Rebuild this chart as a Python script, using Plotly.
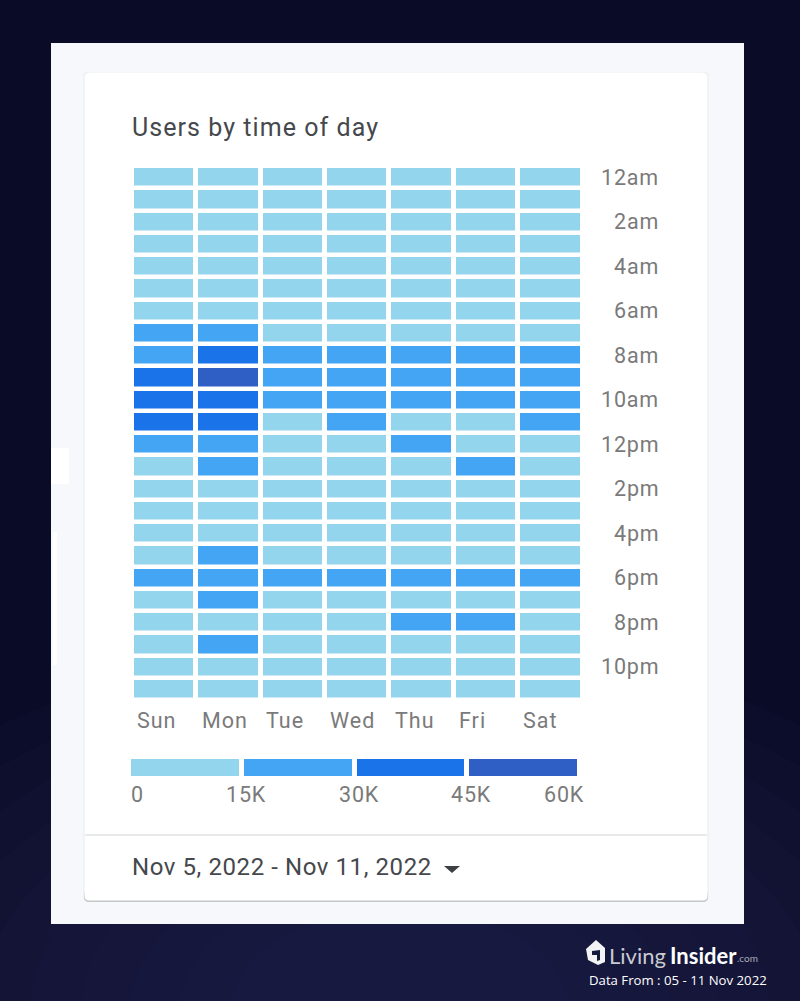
import plotly.graph_objects as go

days = ["Sun", "Mon", "Tue", "Wed", "Thu", "Fri", "Sat"]
hours = ["12am", "1am", "2am", "3am", "4am", "5am", "6am", "7am", "8am", "9am", "10am", "11am",
         "12pm", "1pm", "2pm", "3pm", "4pm", "5pm", "6pm", "7pm", "8pm", "9pm", "10pm", "11pm"]
hour_labels = ["12am", "2am", "4am", "6am", "8am", "10am", "12pm", "2pm", "4pm", "6pm", "8pm", "10pm"]

# values read by colour bucket only, so these are estimates (12am -> 11pm)
sun = [9000, 7000, 5000, 4000, 4000, 6000, 11000, 19000, 23000, 36000, 38000, 37000,
       24000, 14000, 13000, 12000, 13000, 14000, 25000, 14000, 13000, 13000, 12000, 10000]
mon = [8000, 6000, 4000, 4000, 4000, 6000, 12000, 22000, 39000, 48000, 41000, 40000,
       25000, 21000, 14000, 13000, 14000, 18000, 24000, 20000, 14000, 19000, 13000, 10000]
tue = [8000, 6000, 5000, 4000, 4000, 6000, 11000, 14000, 24000, 22000, 21000, 14000,
       14000, 13000, 13000, 12000, 13000, 14000, 25000, 14000, 13000, 13000, 12000, 10000]
wed = [8000, 6000, 5000, 4000, 4000, 6000, 11000, 14000, 23000, 22000, 21000, 19000,
       14000, 13000, 13000, 12000, 13000, 14000, 26000, 14000, 13000, 13000, 12000, 10000]
thu = [8000, 6000, 5000, 4000, 4000, 6000, 11000, 14000, 23000, 22000, 21000, 14000,
       19000, 13000, 13000, 12000, 13000, 14000, 24000, 14000, 18000, 13000, 12000, 10000]
fri = [8000, 6000, 5000, 4000, 4000, 6000, 11000, 14000, 23000, 23000, 21000, 14000,
       14000, 18000, 13000, 12000, 13000, 14000, 23000, 14000, 18000, 13000, 12000, 10000]
sat = [8000, 6000, 5000, 4000, 4000, 6000, 10000, 14000, 22000, 23000, 21000, 19000,
       14000, 13000, 13000, 12000, 13000, 14000, 22000, 14000, 13000, 13000, 12000, 10000]

legend_mid = [7500, 22500, 37500, 52500]
legend_ticks = [0, 15000, 30000, 45000, 60000]
legend_text = ["0", "15K", "30K", "45K", "60K"]

colors = ["#93d5ed", "#45a5f5", "#1a73e8", "#2f5ec4"]
scale = []
for i, c in enumerate(colors):
    scale.append([i / 4, c])
    scale.append([(i + 1) / 4, c])

W, H = 800, 1001


def px(x):
    return x / W


def py(y):
    return 1 - y / H


def spaced(s, ls):
    return f'<span style="letter-spacing:{ls}px">{s}</span>'


def card_path(x0, y0, x1, y1, r):
    return (f"M {px(x0 + r)} {py(y0)} L {px(x1 - r)} {py(y0)} Q {px(x1)} {py(y0)} {px(x1)} {py(y0 + r)}"
            f" L {px(x1)} {py(y1 - r)} Q {px(x1)} {py(y1)} {px(x1 - r)} {py(y1)}"
            f" L {px(x0 + r)} {py(y1)} Q {px(x0)} {py(y1)} {px(x0)} {py(y1 - r)}"
            f" L {px(x0)} {py(y0 + r)} Q {px(x0)} {py(y0)} {px(x0 + r)} {py(y0)} Z")


# z has one row per hour, one column per day
z = [list(row) for row in zip(sun, mon, tue, wed, thu, fri, sat)]

fig = go.Figure()
fig.add_trace(go.Heatmap(z=z, x=days, y=hours, zmin=0, zmax=60000, colorscale=scale,
                         showscale=False, xgap=5, ygap=4.5))
fig.add_trace(go.Heatmap(z=[legend_mid], x=legend_mid, y=["range"], xaxis="x2", yaxis="y2",
                         zmin=0, zmax=60000, colorscale=scale, showscale=False, xgap=5, hoverinfo="skip"))

shapes = []

# page background, lighter towards the bottom middle
for r in range(620, 120, -50):
    shapes.append(dict(type="circle", xref="paper", yref="paper",
                       x0=px(400 - r), x1=px(400 + r), y0=py(1010 + r * 0.6), y1=py(1010 - r * 0.6),
                       fillcolor="#2f3a6c", opacity=0.06, line_width=0, layer="below"))

# grey panel + white card
shapes.append(dict(type="rect", xref="paper", yref="paper", x0=px(51), x1=px(744), y0=py(924), y1=py(43),
                   fillcolor="#f7f8fb", line_width=0, layer="below"))
# pale smudges on the left of the panel
shapes.append(dict(type="rect", xref="paper", yref="paper", x0=px(51), x1=px(69), y0=py(484), y1=py(448),
                   fillcolor="#ffffff", line_width=0, layer="below"))
shapes.append(dict(type="rect", xref="paper", yref="paper", x0=px(53), x1=px(57), y0=py(665), y1=py(532),
                   fillcolor="#ffffff", line_width=0, layer="below"))
shapes.append(dict(type="path", xref="paper", yref="paper", path=card_path(83.5, 72, 708.5, 901, 5),
                   fillcolor="#e9eaec", line_width=0, layer="below"))
shapes.append(dict(type="path", xref="paper", yref="paper", path=card_path(84, 890, 708, 902, 5),
                   fillcolor="#c6c7c9", line_width=0, layer="below"))
shapes.append(dict(type="path", xref="paper", yref="paper", path=card_path(84.5, 72.5, 707.5, 900.5, 5),
                   fillcolor="#ffffff", line_width=0, layer="below"))
shapes.append(dict(type="line", xref="paper", yref="paper", x0=px(85), x1=px(707), y0=py(835), y1=py(835),
                   line=dict(color="#e1e2e4", width=1.5)))
# dropdown arrow
shapes.append(dict(type="path", xref="paper", yref="paper", fillcolor="#3c4043", line_width=0,
                   path=f"M {px(444)} {py(866)} L {px(460)} {py(866)} L {px(452)} {py(873)} Z"))

notes = []


def text(x, y, s, size, color, anchor="left", family="Roboto"):
    notes.append(dict(xref="paper", yref="paper", x=px(x), y=py(y), text=s, showarrow=False,
                      xanchor=anchor, yanchor="middle", font=dict(family=family, size=size, color=color)))


text(129.5, 127, spaced("Users by time of day", 1.05), 25, "#45484c")
text(129.5, 867, spaced("Nov 5, 2022 - Nov 11, 2022", 0.58), 24, "#45484c")

for h in hour_labels:
    notes.append(dict(xref="paper", yref="y", x=px(660.5), y=h, text=spaced(h, 0.8), showarrow=False, xanchor="right",
                      font=dict(family="Roboto", size=21.5, color="#7a7a7a")))
for d in days:
    notes.append(dict(xref="x", yref="paper", x=d, y=py(720), text=spaced(d, 1.0), showarrow=False, xanchor="left",
                      yanchor="middle", xshift=-29, font=dict(family="Roboto", size=21.5, color="#7a7a7a")))

anchors = ["left", "center", "center", "center", "right"]
shifts = [0, 4, 4, 4, 6]
for t, s, a, sh in zip(legend_ticks, legend_text, anchors, shifts):
    notes.append(dict(xref="x2", yref="paper", x=t, y=py(794), text=spaced(s, 0.8), showarrow=False, xanchor=a,
                      yanchor="middle", xshift=sh, font=dict(family="Roboto", size=21.5, color="#7a7a7a")))

# site logo and footer
shapes.append(dict(type="path", xref="paper", yref="paper", fillcolor="#f2f3f5", line_width=0,
                   path=f"M {px(586)} {py(949)} L {px(596)} {py(940)} L {px(605)} {py(948)} L {px(605)} {py(962)}"
                        f" L {px(598)} {py(965)} L {px(588)} {py(960)} Z"))
shapes.append(dict(type="path", xref="paper", yref="paper", fillcolor="#141a3c", line_width=0,
                   path=f"M {px(592)} {py(951)} L {px(600)} {py(950)} L {px(600)} {py(960)} L {px(597)} {py(961)}"
                        f" L {px(597)} {py(955)} L {px(592)} {py(955)} Z"))
text(607, 955, "Living", 22, "#c9cbd2", family="Lato")
text(668, 955, "<b>Insider</b>", 22, "#ffffff", family="Lato")
text(735, 958, ".com", 10, "#a9acb8", family="Lato")
text(587, 980, "Data From : 05 - 11 Nov 2022", 13.2, "#ffffff", family="Open Sans")

fig.update_layout(
    width=W, height=H, margin=dict(l=0, r=0, t=0, b=0),
    paper_bgcolor="#0a0b27", plot_bgcolor="rgba(0,0,0,0)",
    showlegend=False, shapes=shapes, annotations=notes,
    xaxis=dict(domain=[px(132), px(582.5)], range=[-0.5, 6.5], showticklabels=False, showgrid=False,
               zeroline=False, ticks="", anchor="y"),
    yaxis=dict(domain=[py(700), py(166)], range=[23.5, -0.5], showticklabels=False, showgrid=False,
               zeroline=False, ticks="", anchor="x"),
    xaxis2=dict(domain=[px(129), px(580)], range=[0, 60000], showticklabels=False, showgrid=False,
                zeroline=False, ticks="", anchor="y2"),
    yaxis2=dict(domain=[py(776), py(759)], showticklabels=False, showgrid=False, zeroline=False, ticks="",
                anchor="x2"),
)

# the page's default body margin would push the figure 8px in
fig.write_html("out.html", config=dict(displayModeBar=False),
               post_script="document.body.style.margin='0';document.body.style.background='#0a0b27';")
